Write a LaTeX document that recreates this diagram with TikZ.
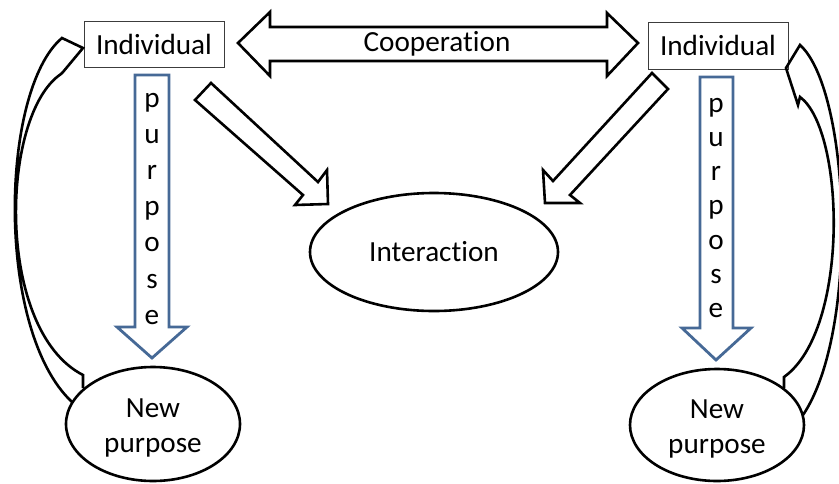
\documentclass[tikz,border=0pt]{standalone}
\usepackage{fontspec}
\setmainfont{Carlito}[Ligatures=NoCommon]
\usetikzlibrary{shapes.geometric}
\definecolor{steel}{RGB}{70,105,150}
\definecolor{boxline}{RGB}{60,60,60}
\begin{document}
\begin{tikzpicture}[x=1pt,y=-1pt,
  every node/.style={font=\fontsize{29.2}{34}\selectfont},
  indbox/.style={draw=boxline,line width=1pt,rectangle,minimum width=140pt,inner sep=0pt,fill=white},
  oval/.style={draw=black,line width=2.6pt,ellipse,inner sep=0pt},
  blockarrow/.style={draw=black,line width=2.6pt,line join=miter,fill=white},
  purposearrow/.style={draw=steel,line width=2.8pt,line join=miter,fill=white},
  curvearrow/.style={draw=black,line width=2.6pt,line join=miter},
  letter/.style={anchor=base,inner sep=0pt}]
\useasboundingbox (0,0) rectangle (839,483);

% boxes
\node[indbox,minimum height=46pt] (indL) at (154,44) {Individual};
\node[indbox,minimum height=47pt] (indR) at (718,45.5) {Individual};

% ellipses
\node[oval,minimum width=248pt,minimum height=118pt] (inter) at (434,252) {Interaction};
\node[oval,minimum width=174pt,minimum height=114pt] (npL) at (153,424) {};
\node[oval,minimum width=174pt,minimum height=112pt] (npR) at (717,425) {};
\node[letter] (npLa) at (153,417) {New};
\node[letter] (npLb) at (153,452) {purpose};
\node[letter] (npRa) at (717,418) {New};
\node[letter] (npRb) at (717,453) {purpose};

% cooperation double arrow
\draw[blockarrow] (238,43) -- (270,12) -- (270,27) -- (607,27) -- (607,13) -- (638,43)
  -- (607,76) -- (607,61) -- (270,61) -- (270,76) -- cycle;
\node[inner sep=0pt] (coop) at (437,44) {Cooperation};

% diagonal arrows to interaction
\draw[blockarrow] (211,83) -- (318,182) -- (327,170) -- (328,204) -- (295,205) -- (303,195) -- (195,100) -- cycle;
\draw[blockarrow] (652,73) -- (668,89) -- (570,195) -- (580,203) -- (545,203) -- (543,170) -- (553,181) -- cycle;

% purpose arrows
\draw[purposearrow] (135,75) -- (169,75) -- (169,327) -- (187,327) -- (152,358) -- (117,327) -- (135,327) -- cycle;
\draw[purposearrow] (700,77) -- (733,77) -- (733,328) -- (751,328) -- (716,360) -- (682,328) -- (700,328) -- cycle;
\foreach \ch [count=\i] in {p,u,r,p,o,s,e}{
  \node[letter] (pl\i) at (152,{107+36.2*(\i-1)}) {\ch};
  \node[letter] (pr\i) at (716,{112+34.3*(\i-1)}) {\ch};
}

% curved feedback arrows
\draw[curvearrow] (83,388) -- (83,375) .. controls (-5,330) and (0,115) .. (61,74)
  -- (63,72) -- (83,48) -- (62,38) .. controls (0,90) and (-5,330) .. (72,402);
\draw[curvearrow] (784,388) -- (784,377) .. controls (850,330) and (845,130) .. (800,97)
  -- (798,105) -- (786,68) -- (800,45) .. controls (850,90) and (860,330) .. (803,415);
\end{tikzpicture}
\end{document}
